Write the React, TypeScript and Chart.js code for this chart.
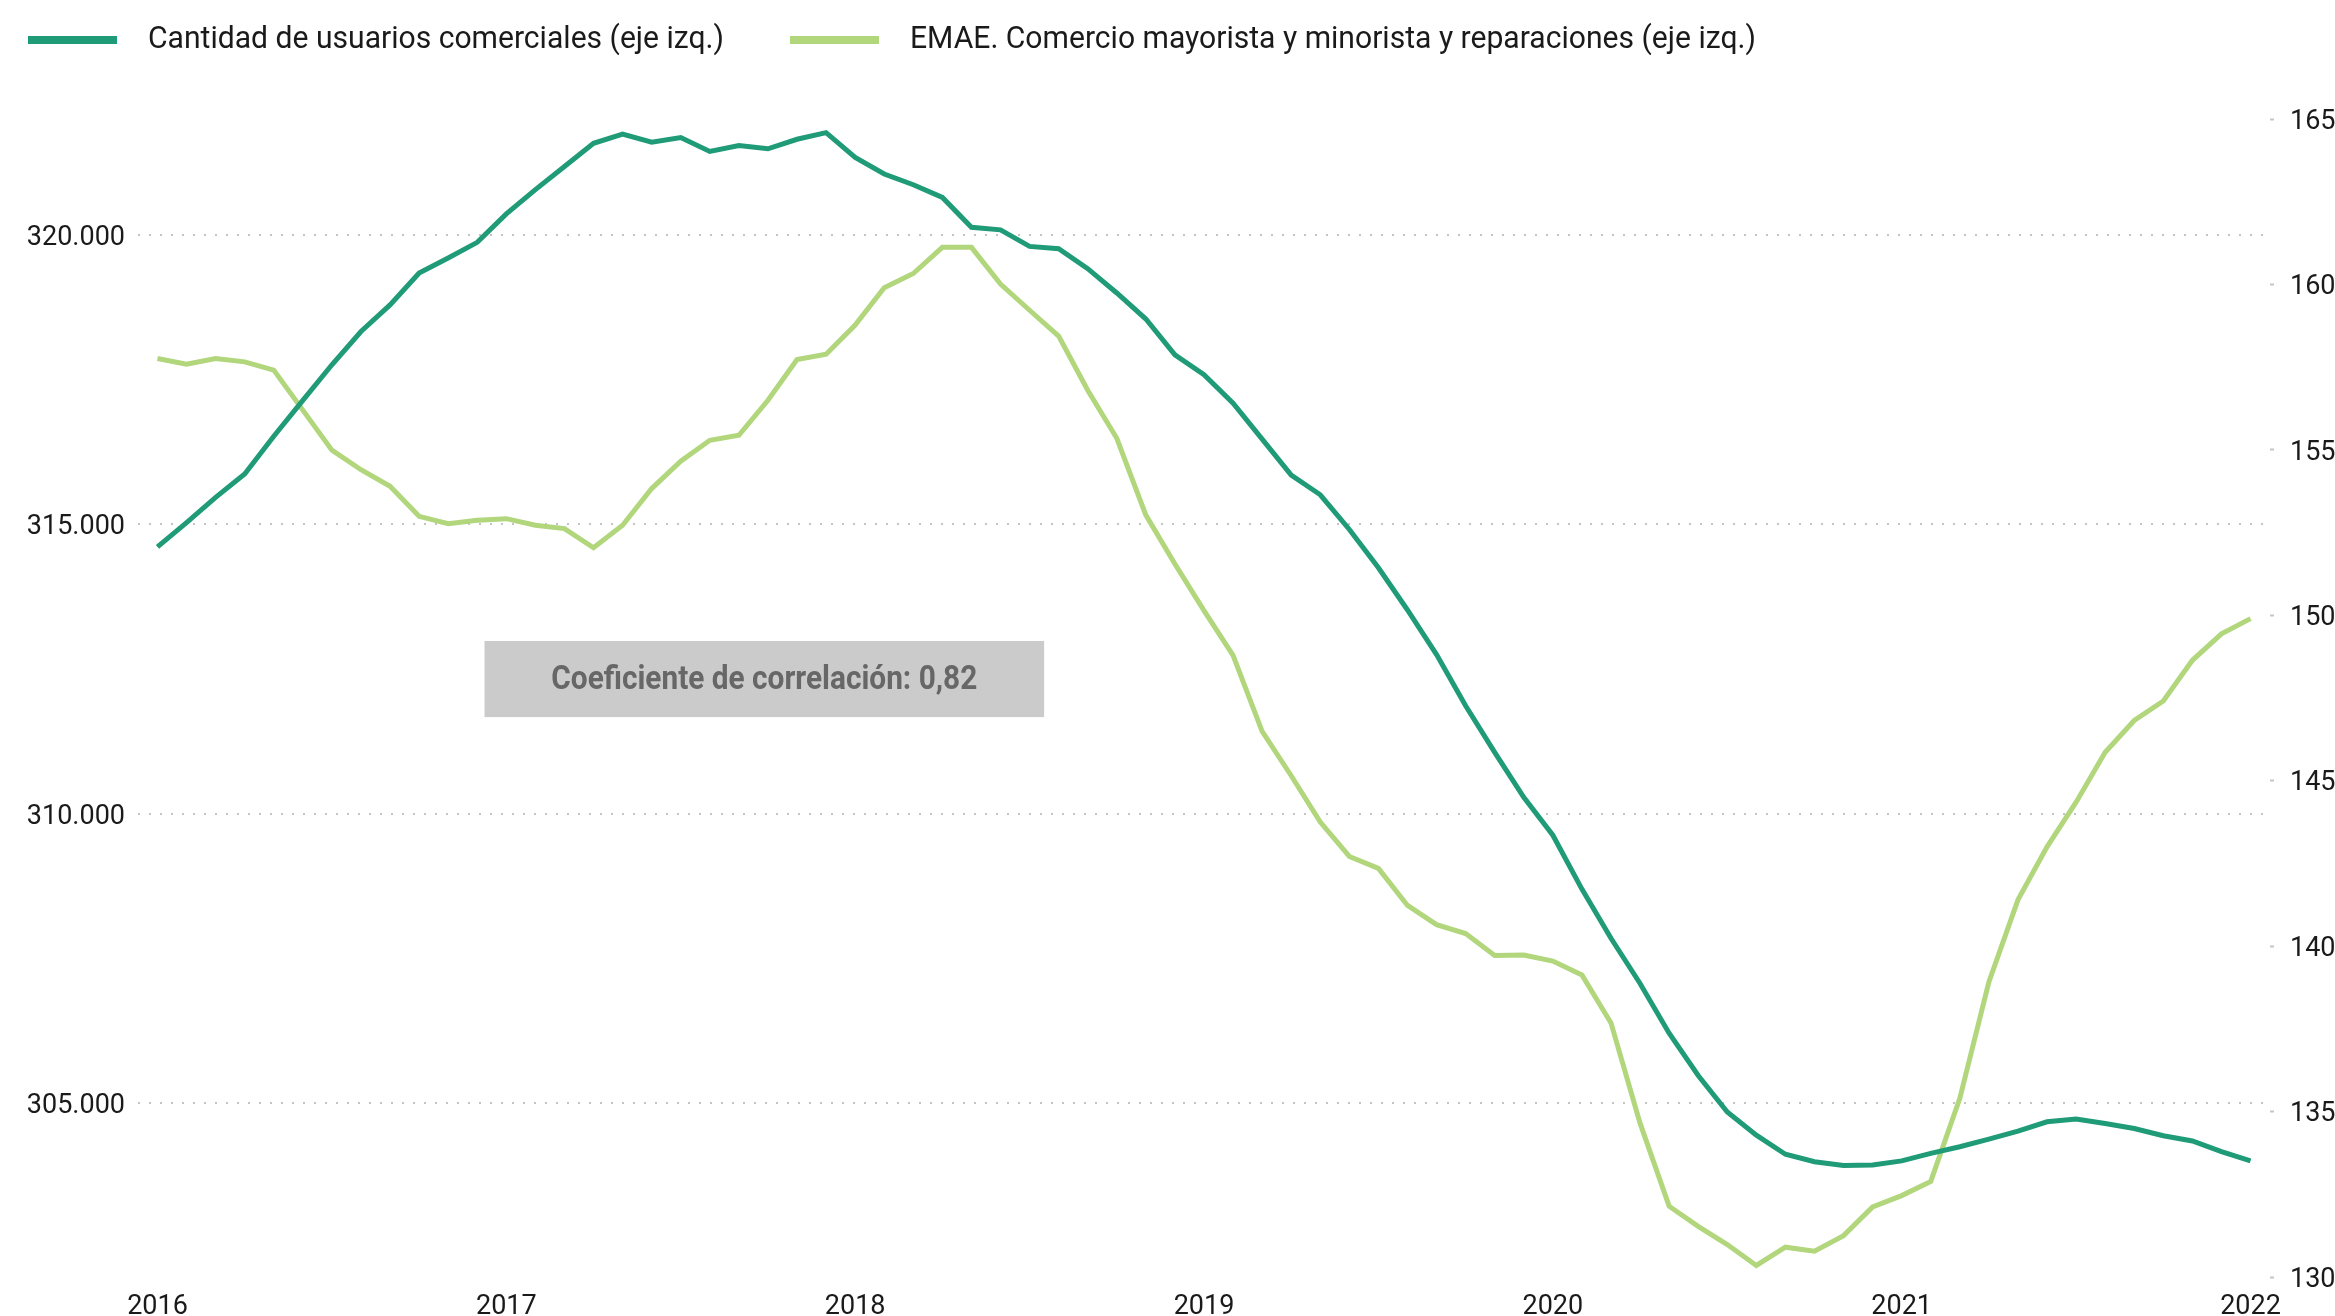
import { useEffect, useRef } from "react";
import { Chart, registerables } from "chart.js";

Chart.register(...registerables);

// X axis tick labels (one per January)
const yearLabels = ["2016", "2017", "2018", "2019", "2020", "2021", "2022"];

// Legend / series names
const seriesNames = [
  "Cantidad de usuarios comerciales (eje izq.)",
  "EMAE. Comercio mayorista y minorista y reparaciones (eje izq.)",
];

// Monthly series, Jan 2016 – Jan 2022
const usuarios = [
  314610, 315030, 315465, 315870, 316520, 317140, 317755, 318330, 318790, 319340, 319600, 319870,
  320360, 320780, 321180, 321580, 321740, 321600, 321680, 321440, 321540, 321485, 321650, 321765,
  321335, 321050, 320865, 320645, 320130, 320085, 319800, 319760, 319415, 318995, 318545, 317925,
  317585, 317090, 316470, 315850, 315510, 314910, 314250, 313520, 312750, 311865, 311060, 310285,
  309630, 308700, 307850, 307070, 306210, 305480, 304850, 304450, 304120, 303990, 303925, 303935,
  304005, 304135, 304250, 304380, 304520, 304680, 304730, 304650, 304565, 304440, 304350, 304165,
  304005,
];

const emae = [
  157.76, 157.59, 157.76, 157.66, 157.41, 156.2, 154.99, 154.4, 153.9, 152.99, 152.77, 152.87,
  152.92, 152.72, 152.62, 152.04, 152.72, 153.83, 154.66, 155.29, 155.44, 156.5, 157.73, 157.89,
  158.77, 159.9, 160.33, 161.12, 161.12, 160.01, 159.22, 158.44, 156.8, 155.35, 153.03, 151.55,
  150.14, 148.79, 146.49, 145.15, 143.75, 142.71, 142.35, 141.23, 140.65, 140.38, 139.72, 139.73,
  139.55, 139.13, 137.68, 134.65, 132.14, 131.53, 130.98, 130.35, 130.9, 130.78, 131.25, 132.12,
  132.46, 132.89, 135.4, 138.92, 141.4, 143.0, 144.35, 145.86, 146.82, 147.41, 148.64, 149.44,
  149.9,
];

// Left axis tick values
const leftTicks = [305000, 310000, 315000, 320000];

// Annotation
const annotationText = "Coeficiente de correlación: 0,82";

const DARK = "#1f9b77";
const LIGHT = "#b1d67c";

const legendPlugin = {
  id: "customLegend",
  afterDraw(chart: any) {
    const ctx = chart.ctx as CanvasRenderingContext2D;
    ctx.save();
    ctx.font = "32px Roboto";
    ctx.textBaseline = "middle";
    ctx.textAlign = "left";
    const first = ctx.measureText(chart.data.datasets[0].label).width;
    const cond = 576 / first;
    let x = 28;
    const y = 40;
    chart.data.datasets.forEach((ds: any) => {
      ctx.fillStyle = ds.borderColor;
      ctx.fillRect(x, y - 4, 89, 8);
      x += 89 + 31;
      ctx.save();
      ctx.translate(x, y);
      ctx.scale(cond, 1);
      ctx.fillStyle = "#1a1a1a";
      ctx.fillText(ds.label, 0, 0);
      ctx.restore();
      x += ctx.measureText(ds.label).width * cond + 66;
    });
    ctx.restore();
  },
};

const annotationPlugin = {
  id: "corrBox",
  afterDatasetsDraw(chart: any) {
    const { ctx, scales } = chart;
    const x0 = scales.x.getPixelForValue(11.25);
    const x1 = scales.x.getPixelForValue(30.5);
    const y0 = scales.y.getPixelForValue(312985);
    const y1 = scales.y.getPixelForValue(311670);
    ctx.save();
    ctx.fillStyle = "#cbcbcb";
    ctx.fillRect(x0, y0, x1 - x0, y1 - y0);
    ctx.font = "bold 34px Roboto";
    ctx.textBaseline = "middle";
    ctx.textAlign = "center";
    const w = ctx.measureText(annotationText).width;
    const cond = 426 / w;
    ctx.translate((x0 + x1) / 2, (y0 + y1) / 2 + 1);
    ctx.scale(cond, 1);
    ctx.fillStyle = "#676767";
    ctx.fillText(annotationText, 0, 0);
    ctx.restore();
  },
};

export default function App() {
  const ref = useRef<HTMLCanvasElement | null>(null);

  useEffect(() => {
    if (!ref.current) return;
    const idx = usuarios.map((_, i) => i);
    const chart = new Chart(ref.current, {
      type: "line",
      data: {
        datasets: [
          {
            label: seriesNames[0],
            data: idx.map((i) => ({ x: i, y: usuarios[i] })),
            borderColor: DARK,
            backgroundColor: DARK,
            borderWidth: 5,
            pointRadius: 0,
            tension: 0,
            yAxisID: "y",
            order: 1,
          },
          {
            label: seriesNames[1],
            data: idx.map((i) => ({ x: i, y: emae[i] })),
            borderColor: LIGHT,
            backgroundColor: LIGHT,
            borderWidth: 5,
            pointRadius: 0,
            tension: 0,
            yAxisID: "y1",
            order: 2,
          },
        ],
      },
      options: {
        animation: false,
        responsive: false,
        devicePixelRatio: 1,
        layout: { padding: { top: 119, left: 0, right: 0, bottom: 0 } },
        font: { family: "Roboto" },
        plugins: {
          legend: { display: false },
          tooltip: { enabled: false },
        },
        scales: {
          x: {
            type: "linear",
            min: -0.67,
            max: 72.67,
            grid: { display: false, drawTicks: false },
            border: { display: false },
            afterBuildTicks: (scale: any) => {
              scale.ticks = yearLabels.map((_, k) => ({ value: k * 12 }));
            },
            afterFit: (scale: any) => {
              scale.height = 39;
            },
            ticks: {
              autoSkip: false,
              maxRotation: 0,
              padding: 14,
              color: "#1a1a1a",
              font: { family: "Roboto", size: 27 },
              callback: (v: any) => yearLabels[Math.round(Number(v) / 12)] ?? "",
            },
          },
          y: {
            position: "left",
            min: 302000,
            max: 322000,
            afterBuildTicks: (scale: any) => {
              scale.ticks = leftTicks.map((v) => ({ value: v }));
            },
            afterFit: (scale: any) => {
              scale.width = 138;
            },
            grid: { color: "#c4c4c4", lineWidth: 2, drawTicks: false },
            border: { display: false, dash: [2, 9] },
            ticks: {
              padding: 13,
              labelOffset: 3,
              color: "#1a1a1a",
              font: { family: "Roboto", size: 27 },
              callback: (v: any) => Number(v).toLocaleString("de-DE"),
            },
          },
          y1: {
            position: "right",
            min: 130,
            max: 165,
            afterFit: (scale: any) => {
              scale.width = 65;
            },
            grid: {
              drawOnChartArea: false,
              drawTicks: true,
              tickLength: 4,
              tickColor: "#c4c4c4",
              tickWidth: 2,
            },
            border: { display: false },
            ticks: {
              stepSize: 5,
              padding: 16,
              labelOffset: 3,
              color: "#1a1a1a",
              font: { family: "Roboto", size: 27 },
            },
          },
        },
      },
      plugins: [legendPlugin, annotationPlugin],
    } as any);
    return () => chart.destroy();
  }, []);

  return (
    <div style={{ position: "fixed", left: 0, top: 0, width: 2335, height: 1316, background: "#fff" }}>
      <canvas ref={ref} width={2335} height={1316} style={{ display: "block" }} />
    </div>
  );
}
